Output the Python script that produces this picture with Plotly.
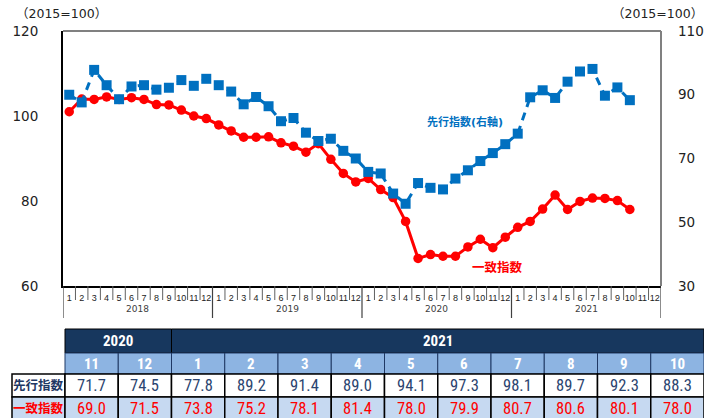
import plotly.graph_objects as go

# ---------------- data ----------------
years = ["2018", "2019", "2020", "2021"]
months = [str(m) for m in range(1, 13)]

coincident = [
    101.0, 104.0, 103.9, 104.5, 103.9, 104.3, 103.9, 102.7, 102.6, 101.4, 100.0, 99.4,
    97.9, 96.5, 95.0, 95.0, 95.1, 93.7, 92.9, 91.5, 93.5, 89.8, 86.5, 84.5,
    85.3, 82.7, 80.8, 75.2, 66.5, 67.4, 67.0, 67.0, 69.2, 71.0, 69.0, 71.5,
    73.8, 75.2, 78.1, 81.4, 78.0, 79.9, 80.7, 80.6, 80.1, 78.0,
]
leading = [
    90.0, 87.6, 97.8, 93.0, 88.6, 92.6, 93.0, 91.6, 92.2, 94.6, 92.8, 95.0,
    93.0, 91.0, 87.0, 89.3, 86.4, 81.7, 82.7, 78.1, 75.5, 76.2, 72.4, 70.0,
    65.8, 65.3, 59.0, 55.8, 62.3, 60.8, 60.3, 63.7, 66.3, 69.2, 71.7, 74.5,
    77.8, 89.2, 91.4, 89.0, 94.1, 97.3, 98.1, 89.7, 92.3, 88.3,
]

table_years = ["2020", "2021"]
table_year_span = [2, 10]
table_months = ["11", "12", "1", "2", "3", "4", "5", "6", "7", "8", "9", "10"]
table_leading = ["71.7", "74.5", "77.8", "89.2", "91.4", "89.0", "94.1", "97.3", "98.1", "89.7", "92.3", "88.3"]
table_coincident = ["69.0", "71.5", "73.8", "75.2", "78.1", "81.4", "78.0", "79.9", "80.7", "80.6", "80.1", "78.0"]
row_labels = ["先行指数", "一致指数"]

left_ticks = [60, 80, 100, 120]
right_ticks = [30, 50, 70, 90, 110]

# ---------------- layout geometry ----------------
W, H = 704, 418
L, R, T, B = 63, 661, 31, 286
PW, PH = R - L, B - T


def px(x):
    return (x - L) / PW


def py(y):
    return (B - y) / PH


RED = "#ff0000"
BLUE = "#0070c0"
FONT = "DejaVu Sans, Noto Sans CJK JP, sans-serif"
NARROW = "Liberation Sans Narrow, Arial Narrow, Roboto Condensed, Liberation Sans, sans-serif"

n_months = len(years) * 12
x_all = list(range(n_months))

fig = go.Figure()
fig.add_trace(go.Scatter(
    x=x_all[:len(coincident)], y=coincident, yaxis="y", mode="lines+markers",
    line=dict(color=RED, width=3), marker=dict(color=RED, size=9.5, symbol="circle"),
    showlegend=False, hoverinfo="skip",
))
fig.add_trace(go.Scatter(
    x=x_all[:len(leading)], y=leading, yaxis="y2", mode="lines+markers",
    line=dict(color=BLUE, width=3, dash="8px,6px"), marker=dict(color=BLUE, size=10, symbol="square"),
    showlegend=False, hoverinfo="skip",
))

shapes = []
annotations = []


def ann(x, y, s, color, size, family=FONT, xref="paper"):
    annotations.append(dict(x=x, y=y, xref=xref, yref="paper", text=s, showarrow=False,
                            xanchor="center", yanchor="middle",
                            font=dict(family=family, size=size, color=color)))


# frame (top/right gray)
shapes.append(dict(type="line", xref="paper", yref="paper", x0=0, x1=1, y0=1, y1=1,
                   line=dict(color="#808080", width=2)))
shapes.append(dict(type="line", xref="paper", yref="paper", x0=1, x1=1, y0=0, y1=1,
                   line=dict(color="#808080", width=2)))

# month separators & year separators
for i in range(n_months + 1):
    xv = i - 0.5
    is_year = (i % 12 == 0)
    y_end = 318 if is_year else 300
    shapes.append(dict(type="line", xref="x", yref="paper", x0=xv, x1=xv,
                       y0=0, y1=py(y_end),
                       line=dict(color="#404040" if is_year else "#606060", width=1.2 if is_year else 1)))
for k, yr in enumerate(years):
    ann(k * 12 + 5.5, py(309), yr, "#404040", 9, xref="x")

# axis unit captions
ann(px(61), py(13), "（2015=100）", "#222", 12.5)
ann(px(657), py(13), "（2015=100）", "#222", 12.5)

# series labels
ann(px(465), py(122), "<b>先行指数(右軸)</b>", BLUE, 11)
ann(px(497), py(267), "<b>一致指数</b>", RED, 12.5)

# ---------------- table ----------------
tab_x0, tab_x1, lab_x0 = 65, 704, 12
ncol = len(table_months)
cw = (tab_x1 - tab_x0) / ncol
rows_y = [329, 353, 374, 397, 419]
NAVY = "#17375e"
MID = "#8db4e2"
LIGHT = "#c6d9f1"
VALCOL = "#2b4570"


def rect(x0, y0, x1, y1, fill, lc="black", lw=1):
    shapes.append(dict(type="rect", xref="paper", yref="paper",
                       x0=px(x0), x1=px(x1), y0=py(y1), y1=py(y0),
                       fillcolor=fill, line=dict(color=lc, width=lw), layer="above"))


# year header
c = 0
for yr, span in zip(table_years, table_year_span):
    x0 = tab_x0 + c * cw
    x1 = tab_x0 + (c + span) * cw
    rect(x0, rows_y[0], x1, rows_y[1], NAVY)
    ann(px((x0 + x1) / 2), py((rows_y[0] + rows_y[1]) / 2), "<b>" + yr + "</b>", "white", 15, NARROW)
    c += span
# month header
for j, m in enumerate(table_months):
    x0 = tab_x0 + j * cw
    rect(x0, rows_y[1], x0 + cw, rows_y[2], MID, lc="#1f3864")
    ann(px(x0 + cw / 2), py((rows_y[1] + rows_y[2]) / 2), "<b>" + m + "</b>", "white", 15, NARROW)
# data rows
row_vals = [table_leading, table_coincident]
row_fill = ["white", LIGHT]
row_col = [VALCOL, RED]
lab_col = ["#1f3864", RED]
for r in range(2):
    y0, y1 = rows_y[r + 2], rows_y[r + 3]
    rect(lab_x0, y0, tab_x0, y1, row_fill[r], lw=1.5)
    ann(px((lab_x0 + tab_x0) / 2), py((y0 + y1) / 2), "<b>" + row_labels[r] + "</b>", lab_col[r], 12.5)
    for j, v in enumerate(row_vals[r]):
        x0 = tab_x0 + j * cw
        rect(x0, y0, x0 + cw, y1, row_fill[r], lw=1.5)
        ann(px(x0 + cw / 2), py((y0 + y1) / 2), v, row_col[r], 16.5, NARROW)

fig.update_layout(
    width=W, height=H,
    margin=dict(l=L, r=W - R, t=T, b=H - B, pad=0, autoexpand=False),
    paper_bgcolor="white", plot_bgcolor="white",
    xaxis=dict(range=[-0.5, n_months - 0.5], tickvals=x_all, ticktext=months * len(years),
               showgrid=False, zeroline=False, showline=True, linecolor="black", linewidth=2,
               ticks="", tickfont=dict(family="Liberation Sans, sans-serif", size=9, color="#222"),
               ticklabelstandoff=2, automargin=False, fixedrange=True),
    yaxis=dict(range=[60, 120], tickvals=left_ticks, showgrid=False, zeroline=False,
               showline=True, linecolor="black", linewidth=2, ticks="", automargin=False,
               ticklabelstandoff=20, tickfont=dict(family=FONT, size=13.5, color="#222")),
    yaxis2=dict(range=[30, 110], tickvals=right_ticks, overlaying="y", side="right",
                showgrid=False, zeroline=False, showline=False, ticks="", automargin=False,
                ticklabelstandoff=16, tickfont=dict(family=FONT, size=13.5, color="#222")),
    shapes=shapes, annotations=annotations,
)

fig.write_html("out.html", config={"displayModeBar": False},
               post_script="document.body.style.margin='0px';document.body.style.overflow='hidden';")
